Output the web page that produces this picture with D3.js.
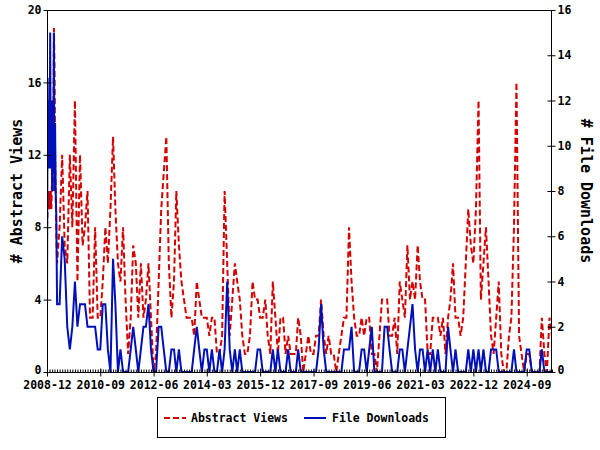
<!DOCTYPE html>
<html><head><meta charset="utf-8">
<script src="https://cdn.jsdelivr.net/npm/d3@7"></script>
<style>body{margin:0;background:#fff}svg{display:block}</style>
</head><body>
<svg id="c" width="600" height="450"></svg>
<script>
// ---- data ----
const earlyDates = ["2008-12-01","2008-12-08","2008-12-15","2008-12-22","2009-01-01","2009-01-08","2009-01-15","2009-01-22",
                    "2009-02-01","2009-02-08","2009-02-15","2009-02-22","2009-03-01","2009-03-08","2009-03-15","2009-03-22"];
const earlyViews     = [8,9,10,9,10,9,10,9,11,10,12,19,17,12,10,8];
const earlyDownloads = [2,13,9,12,9,15,9,12,8,12,9,15,8,11,8,7];
const monthlyStart = "2009-04";
const views = [
 6,8,12,7,6,12,8,15,5,12,7,8,
 10,3,3,8,3,3,5,8,6,9,13,9,
 6,5,8,4,1,3,7,6,3,6,3,4,
 6,3,0,1,5,9,11,13,6,3,5,10,
 7,5,4,3,3,3,2,5,4,3,3,3,
 2,3,3,1,1,2,10,6,2,4,6,5,
 4,2,1,1,2,5,4,4,3,3,4,2,
 1,5,3,1,3,3,1,2,1,1,1,3,
 2,0,1,2,1,1,2,2,4,2,1,2,
 1,1,0,1,2,3,3,8,5,3,2,2,
 3,2,3,3,1,1,0,2,4,4,4,2,
 2,3,1,5,4,3,7,4,5,4,7,5,
 4,4,1,1,3,3,3,2,3,1,3,4,
 6,3,3,2,3,6,9,7,6,9,15,4,
 6,8,5,2,1,3,5,1,0,0,2,3,
 8,16,2,1,0,1,1,0,0,0,0,3,
 1,0,3,2];
const downloads = [
 3,3,6,5,2,1,2,4,2,3,3,3,
 2,2,2,2,1,1,3,3,1,0,5,3,
 0,1,0,0,0,1,2,1,0,1,2,2,
 3,1,0,0,2,2,1,0,0,1,1,0,
 1,0,0,0,0,0,1,2,1,0,1,1,
 0,1,0,0,1,0,1,4,1,0,1,0,
 1,0,0,0,0,0,0,1,1,0,0,0,
 0,1,0,1,0,0,0,1,0,0,0,1,
 0,0,0,0,0,0,0,1,3,1,0,0,
 0,0,0,0,0,1,1,1,2,0,0,0,
 1,1,0,1,2,0,0,0,0,2,2,1,
 0,0,0,1,1,0,1,2,3,1,0,1,
 1,0,1,0,1,0,1,0,0,0,2,1,
 0,1,0,0,0,0,1,0,1,0,1,0,
 1,0,0,1,1,1,0,0,0,0,0,0,
 1,0,0,0,0,1,1,0,0,0,0,1,
 0,0,0,0];
const leftTicks = [0,4,8,12,16,20];
const rightTicks = [0,2,4,6,8,10,12,14,16];
const xTickLabels = ["2008-12","2010-09","2012-06","2014-03","2015-12","2017-09","2019-06","2021-03","2022-12","2024-09"];
const seriesNames = ["Abstract Views","File Downloads"];
const axisTitles = ["# Abstract Views","# File Downloads"];

// ---- build ----
const pDay = d3.timeParse("%Y-%m-%d"), pMon = d3.timeParse("%Y-%m");
const start = pMon(monthlyStart);
const dataV = earlyDates.map((d,i)=>({date:pDay(d), v:earlyViews[i]}))
  .concat(views.map((v,i)=>({date:d3.timeMonth.offset(start,i), v})));
const dataD = earlyDates.map((d,i)=>({date:pDay(d), v:earlyDownloads[i]}))
  .concat(downloads.map((v,i)=>({date:d3.timeMonth.offset(start,i), v})));

const L=47, R=552, T=10, B=372;
const FONT = "'DejaVu Sans Mono', monospace";
const svg = d3.select("#c");
svg.append("rect").attr("width",600).attr("height",450).attr("fill","#fff");

const x = d3.scaleTime().domain(d3.extent(dataV,d=>d.date)).range([L,R]);
const yL = d3.scaleLinear().domain([0,20]).range([B,T]);
const yR = d3.scaleLinear().domain([0,16]).range([B,T]);

// lines
svg.append("clipPath").attr("id","cp").append("rect").attr("x",L).attr("y",T-2).attr("width",R-L).attr("height",B-T+2);
const lineV = d3.line().x(d=>x(d.date)).y(d=>yL(d.v));
const lineD = d3.line().x(d=>x(d.date)).y(d=>yR(d.v));
svg.append("path").datum(dataV).attr("d",lineV).attr("fill","none")
  .attr("stroke","#d40000").attr("stroke-width",2).attr("stroke-dasharray","6,3").attr("clip-path","url(#cp)");
svg.append("path").datum(dataD).attr("d",lineD).attr("fill","none")
  .attr("stroke","#0010b8").attr("stroke-width",2).attr("clip-path","url(#cp)");

// frame
svg.append("rect").attr("x",L+0.5).attr("y",T+0.5).attr("width",R-L-1).attr("height",B-T).attr("fill","none").attr("stroke","#000");

function styleAxis(g){
  g.select(".domain").remove();
  g.selectAll("line").attr("stroke","#000");
  g.selectAll("text").attr("font-family",FONT).attr("font-weight","bold").attr("font-size","11.5px").attr("fill","#000");
}
// left axis
svg.append("g").attr("transform",`translate(${L+0.5},0)`)
  .call(d3.axisLeft(yL).tickValues(leftTicks).tickSize(4).tickPadding(2)).call(styleAxis)
  .selectAll("text").attr("dy", d => d === 0 ? "0.1em" : "0.32em");
svg.append("g").attr("transform",`translate(${L+0.5},0)`)
  .call(d3.axisRight(yL).tickValues(leftTicks).tickSize(4).tickFormat("")).call(styleAxis);
// right axis
svg.append("g").attr("transform",`translate(${R-0.5},0)`)
  .call(d3.axisRight(yR).tickValues(rightTicks).tickSize(4).tickPadding(2)).call(styleAxis)
  .selectAll("text").attr("dy", d => d === 0 ? "0.1em" : "0.32em");
svg.append("g").attr("transform",`translate(${R-0.5},0)`)
  .call(d3.axisLeft(yR).tickValues(rightTicks).tickSize(4).tickFormat("")).call(styleAxis);
// bottom axis: minor monthly ticks (inward), major labelled ticks
const monthTicks = d3.timeMonth.range(x.domain()[0], d3.timeDay.offset(x.domain()[1],1));
svg.append("g").attr("transform",`translate(0,${B+0.5})`)
  .call(d3.axisTop(x).tickValues(monthTicks).tickSize(3).tickFormat("")).call(styleAxis);
const majorDates = xTickLabels.map(pMon);
svg.append("g").attr("transform",`translate(0,${B+0.5})`)
  .call(d3.axisBottom(x).tickValues(majorDates).tickSize(4).tickPadding(4).tickFormat(d3.timeFormat("%Y-%m"))).call(styleAxis);
svg.append("g").attr("transform",`translate(0,${B+0.5})`)
  .call(d3.axisTop(x).tickValues(majorDates).tickSize(4).tickFormat("")).call(styleAxis);

// axis titles
svg.append("text").attr("transform",`translate(17,${(T+B)/2}) rotate(-90)`)
  .attr("text-anchor","middle").attr("dominant-baseline","central")
  .attr("font-family",FONT).attr("font-weight","bold").attr("font-size","15px").text(axisTitles[0]);
svg.append("text").attr("transform",`translate(586,${(T+B)/2}) rotate(90)`)
  .attr("text-anchor","middle").attr("dominant-baseline","central")
  .attr("font-family",FONT).attr("font-weight","bold").attr("font-size","15px").text(axisTitles[1]);

// legend
const lg = svg.append("g");
lg.append("rect").attr("x",157.5).attr("y",397.5).attr("width",288).attr("height",40).attr("fill","#fff").attr("stroke","#000");
const legItems = [
  {name:seriesNames[0], color:"#d40000", dash:"6,3", x0:164, tx:191},
  {name:seriesNames[1], color:"#0010b8", dash:null, x0:304, tx:332}
];
legItems.forEach(it=>{
  lg.append("line").attr("x1",it.x0).attr("x2",it.x0+22).attr("y1",418).attr("y2",418)
    .attr("stroke",it.color).attr("stroke-width",2).attr("stroke-dasharray",it.dash);
  lg.append("text").attr("x",it.tx).attr("y",418).attr("dominant-baseline","central")
    .attr("font-family",FONT).attr("font-weight","bold").attr("font-size","11.5px").text(it.name);
});
</script>
</body></html>
